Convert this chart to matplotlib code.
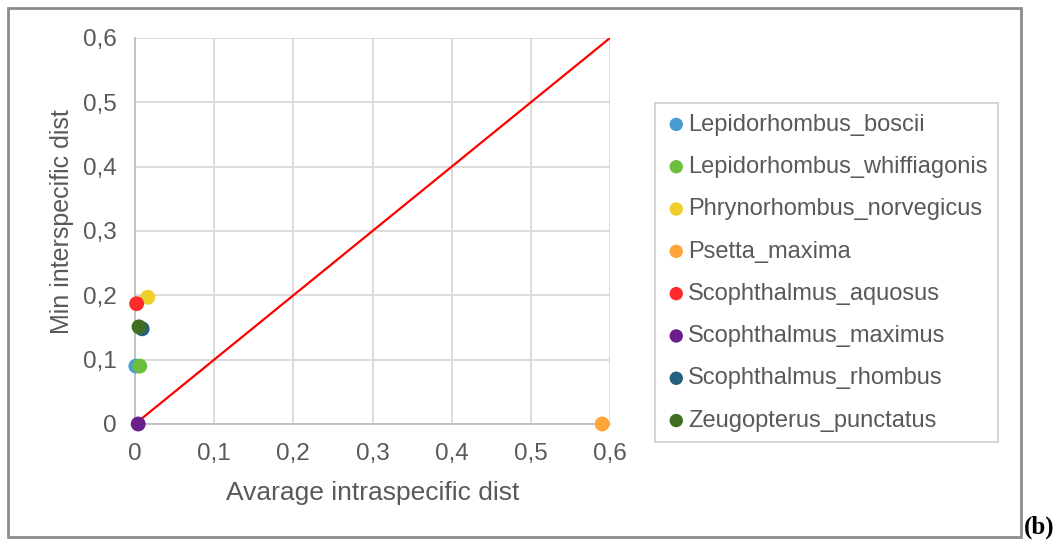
import matplotlib
matplotlib.use("Agg")
import matplotlib.pyplot as plt
from matplotlib.patches import Rectangle
from matplotlib.ticker import FuncFormatter

plt.rcParams['font.family'] = ['Liberation Sans', 'DejaVu Sans']

species = ["Lepidorhombus_boscii", "Lepidorhombus_whiffiagonis",
           "Phrynorhombus_norvegicus", "Psetta_maxima",
           "Scophthalmus_aquosus", "Scophthalmus_maximus",
           "Scophthalmus_rhombus", "Zeugopterus_punctatus"]
intra = [0.001, 0.006, 0.016, 0.59, 0.002, 0.004, 0.009, 0.005]
inter = [0.090, 0.090, 0.197, 0.0, 0.187, 0.0, 0.148, 0.151]
colors = ["#4a9bd0", "#6cbf3c", "#f0cf2a", "#ffa33a",
          "#ff2b2b", "#6b1f8c", "#25607f", "#3f6e22"]

txt = "#595959"
fig = plt.figure(figsize=(10.6, 5.44), dpi=100)
ax = fig.add_axes([0.1274, 0.2206, 0.4481, 0.7096])

ax.plot([0, 0.6], [0, 0.6], color="#ff0000", lw=1.6, zorder=2)
for n, x, y, c in zip(species, intra, inter, colors):
    ax.scatter(x, y, s=115, color=c, label=n, zorder=3, clip_on=False,
               edgecolors="none")

ax.set_xlim(0, 0.6)
ax.set_ylim(0, 0.6)
ticks = [0, 0.1, 0.2, 0.3, 0.4, 0.5, 0.6]
ax.set_xticks(ticks)
ax.set_yticks(ticks)
fmt = FuncFormatter(lambda v, p: "0" if v == 0 else f"{v:.1f}".replace(".", ","))
ax.xaxis.set_major_formatter(fmt)
ax.yaxis.set_major_formatter(fmt)
ax.tick_params(length=0, labelsize=17.5, labelcolor=txt)
ax.tick_params(axis="y", pad=13)
ax.tick_params(axis="x", pad=14)
ax.grid(color="#d9d9d9", lw=1.3)
ax.set_axisbelow(True)
for s in ["top", "right"]:
    ax.spines[s].set_visible(False)
for s in ["left", "bottom"]:
    ax.spines[s].set_color("#bfbfbf")
    ax.spines[s].set_linewidth(1.3)

ax.set_xlabel("Avarage intraspecific dist", fontsize=19, color=txt, labelpad=11)
ax.set_ylabel("Min interspecific dist", fontsize=18, color=txt)
ax.yaxis.set_label_coords(-0.128, 0.523)

leg = fig.legend(loc="upper left", bbox_to_anchor=(655 / 1060, 1 - 103 / 544),
                 fontsize=17, labelcolor=txt, frameon=True, fancybox=False,
                 handletextpad=0.05, handlelength=0.9, labelspacing=0.86,
                 borderpad=0.45, borderaxespad=0, markerscale=0.9)
leg.get_frame().set_edgecolor("#bfbfbf")
leg.get_frame().set_linewidth(1.2)

fig.patches.append(Rectangle((8 / 1060, 7 / 544), 1013 / 1060, 529 / 544,
                             transform=fig.transFigure, fill=False,
                             edgecolor="#8c8c8c", lw=2))
fig.text(1024 / 1060, 10 / 544, "(b)", family="Liberation Serif",
         fontweight="bold", fontsize=18, color="black")

fig.savefig("out.png", dpi=100)
